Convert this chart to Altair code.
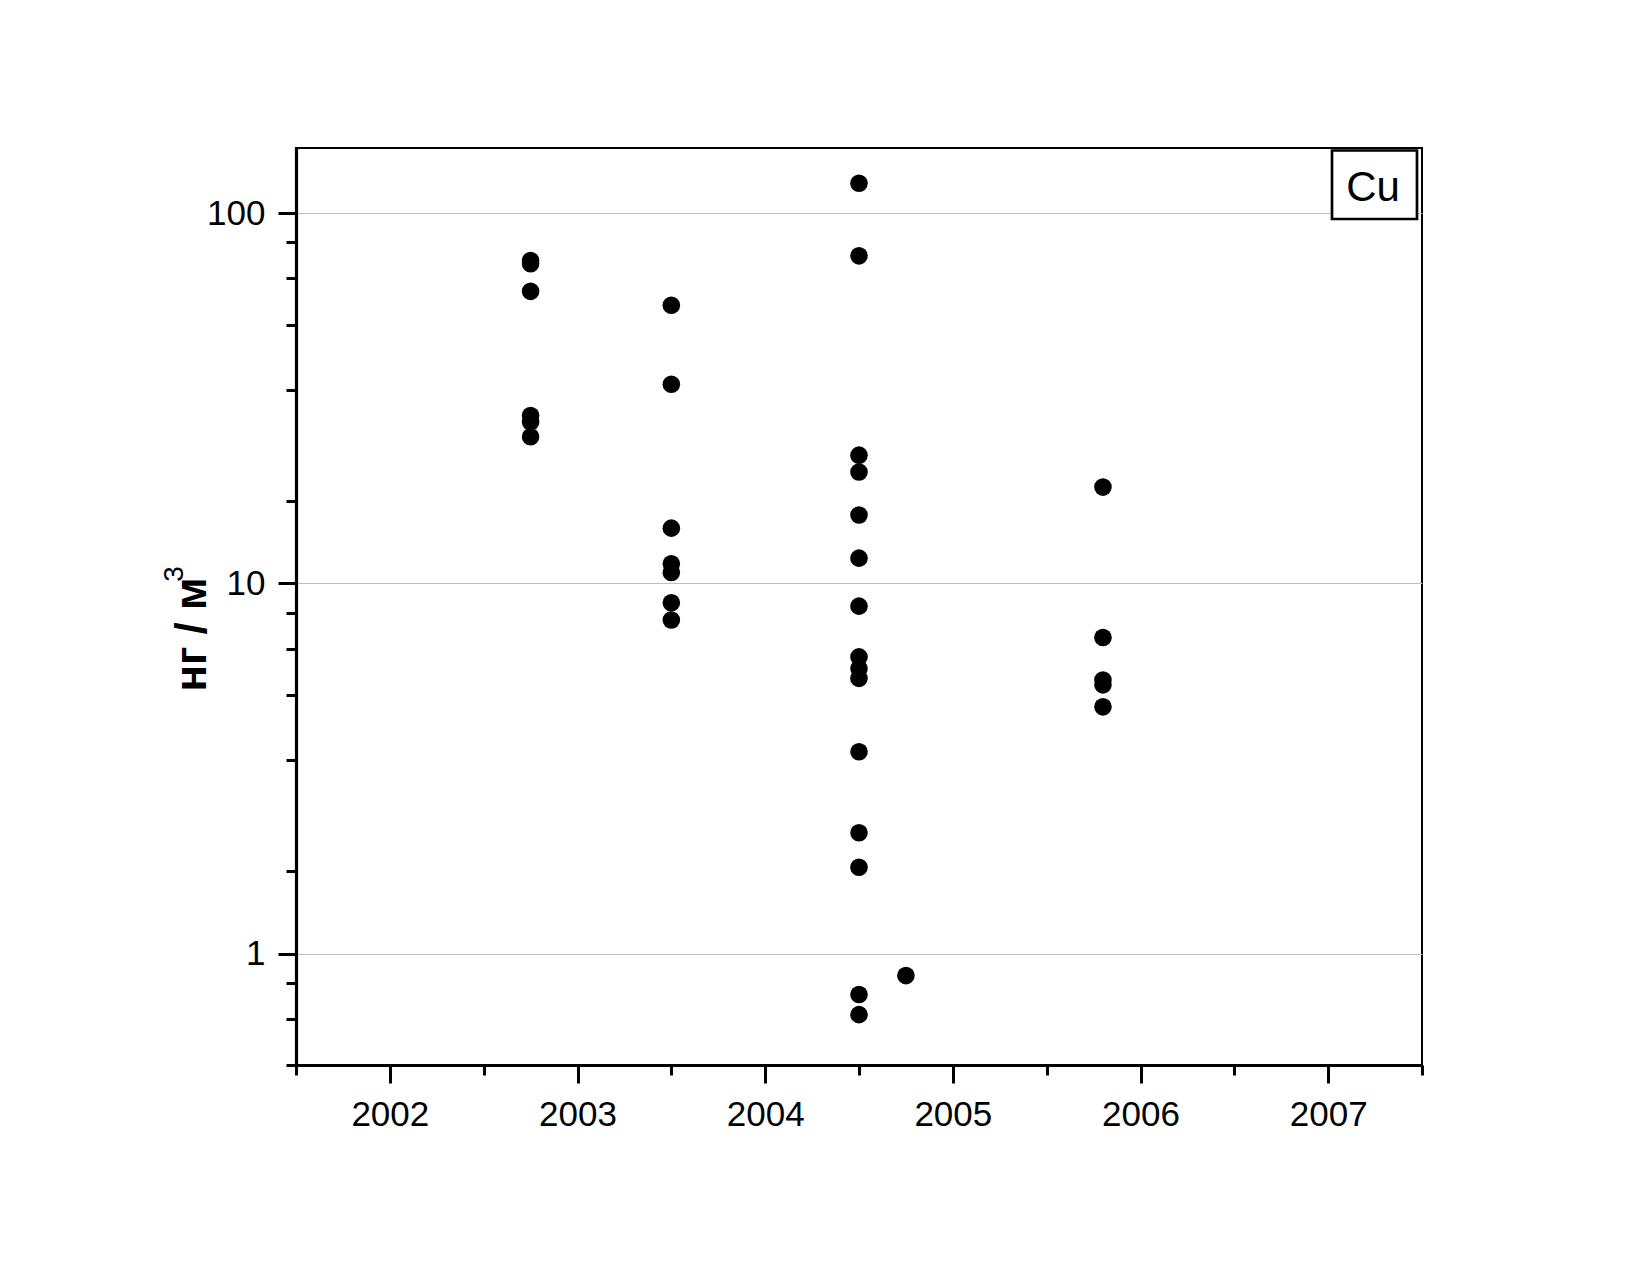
import altair as alt
import pandas as pd

# ---- data ----
year_2002_75 = [74.5, 73.0, 61.5, 28.4, 27.3, 24.9]
year_2003_5 = [56.4, 34.5, 14.1, 11.3, 10.7, 8.86, 7.96]
year_2004_5 = [120.5, 76.7, 22.2, 20.0, 15.3, 11.7, 8.68, 6.33, 5.89, 5.54,
               3.51, 2.12, 1.71, 0.775, 0.684]
year_2004_75 = [0.872]
year_2005_8 = [18.2, 7.14, 5.48, 5.32, 4.64]

groups = [(2002.75, year_2002_75), (2003.5, year_2003_5), (2004.5, year_2004_5),
          (2004.75, year_2004_75), (2005.8, year_2005_8)]

x_major = [2002, 2003, 2004, 2005, 2006, 2007]
x_minor = [2001.5, 2002.5, 2003.5, 2004.5, 2005.5, 2006.5, 2007.5]
y_major = [1, 10, 100]
y_minor = [0.5, 0.6667, 0.8333, 1.6667, 3.3333, 5, 6.6667, 8.3333,
           16.667, 33.333, 50, 66.667, 83.333]
legend_label = ["Cu"]
y_title = "нг / м"
y_title_sup = ["3"]

rows = []
for yr, vals in groups:
    for v in vals:
        rows.append({"year": yr, "value": v})
df = pd.DataFrame(rows)

FONT = "Liberation Sans"
x_dom = [2001.5, 2007.5]
y_dom = [0.5, 150]

x_scale = alt.Scale(domain=x_dom, nice=False, zero=False)
y_scale = alt.Scale(type="log", domain=y_dom, nice=False)

base = alt.Chart(df)

points = base.mark_circle(size=310, color="black", opacity=1).encode(
    x=alt.X("year:Q", scale=x_scale,
            axis=alt.Axis(values=x_major, format="d", orient="bottom", title=None,
                          grid=False, tickSize=18, tickWidth=3, tickColor="black",
                          domainWidth=3.2, domainColor="black",
                          labelFontSize=35, labelFont=FONT, labelColor="black",
                          labelPadding=14, labelFlush=False, labelOverlap=False)),
    y=alt.Y("value:Q", scale=y_scale,
            axis=alt.Axis(values=y_major, format="d", orient="left", title=y_title,
                          grid=True, gridColor="#c0c0c0", gridWidth=1,
                          tickSize=18, tickWidth=3, tickColor="black",
                          domainWidth=3.2, domainColor="black",
                          labelFontSize=35, labelFont=FONT, labelColor="black",
                          labelPadding=13, labelFlush=False, labelOverlap=False,
                          titleFont=FONT, titleFontSize=44, titleFontWeight="bold",
                          titleColor="black", titleAngle=270, titleAlign="center",
                          titleBaseline="alphabetic", titleX=-91, titleY=486)),
)

minor = base.mark_circle(opacity=0).encode(
    x=alt.X("year:Q", scale=x_scale,
            axis=alt.Axis(values=x_minor, orient="bottom", title=None, labels=False,
                          grid=False, domain=False, tickSize=10, tickWidth=3,
                          tickColor="black")),
    y=alt.Y("value:Q", scale=y_scale,
            axis=alt.Axis(values=y_minor, orient="left", title=None, labels=False,
                          grid=False, domain=False, tickSize=10, tickWidth=3,
                          tickColor="black")),
)

sup_df = pd.DataFrame({"s": y_title_sup})
sup = alt.Chart(sup_df).mark_text(font=FONT, fontSize=28, color="black", angle=270,
                                   align="center", baseline="middle").encode(
    text="s:N", x=alt.value(-121), y=alt.value(426)
)

leg_df = pd.DataFrame({"label": legend_label})
box = alt.Chart(leg_df).mark_rect(fill="white", stroke="black", strokeWidth=2.7).encode(
    x=alt.value(1036), x2=alt.value(1121), y=alt.value(2.5), y2=alt.value(71)
)
txt = alt.Chart(leg_df).mark_text(font=FONT, fontSize=42, color="black",
                                   align="center", baseline="middle").encode(
    text="label:N", x=alt.value(1077), y=alt.value(39.5)
)

chart = alt.layer(minor, points, box, txt, sup).resolve_axis(
    x="independent", y="independent"
).properties(
    width=1126, height=917,
    background="white",
    autosize=alt.AutoSizeParams(type="none"),
    padding={"left": 288, "top": 140, "right": 200, "bottom": 180},
).configure_view(stroke="black", strokeWidth=2)

chart.save("out.html", embed_options={"renderer": "svg", "actions": False})
